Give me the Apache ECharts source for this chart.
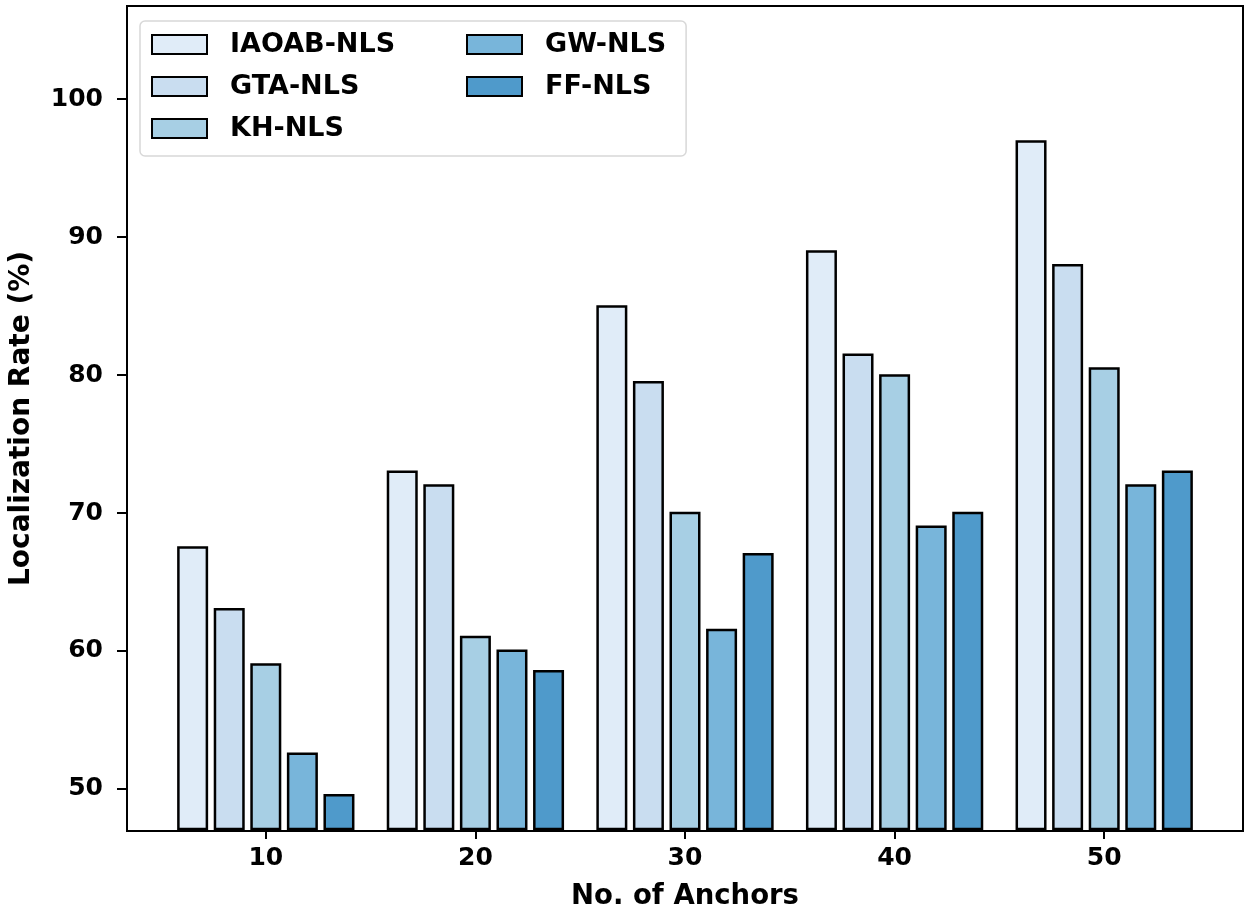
<!DOCTYPE html>
<html>
<head>
<meta charset="utf-8">
<script src="https://cdn.jsdelivr.net/npm/echarts@6/dist/echarts.min.js"></script>
<style>html,body{margin:0;padding:0;background:#fff;}#c{width:1250px;height:916px;}</style>
</head>
<body>
<div id="c"></div>
<script>
var categories = ['10', '20', '30', '40', '50'];
var seriesNames = ['IAOAB-NLS', 'GTA-NLS', 'KH-NLS', 'GW-NLS', 'FF-NLS'];
var iaoabNls = [67.5, 73, 85, 89, 97];
var gtaNls   = [63, 72, 79.5, 81.5, 88];
var khNls    = [59, 61, 70, 80, 80.5];
var gwNls    = [52.5, 60, 61.5, 69, 72];
var ffNls    = [49.5, 58.5, 67, 70, 73];
var yTickValues = [50, 60, 70, 80, 90, 100];
var colors = ['#e0ecf8', '#c9ddf0', '#a7cfe4', '#78b5da', '#4f9acb'];

var values = [iaoabNls, gtaNls, khNls, gwNls, ffNls];
var FONT = 'DejaVu Sans';
var yMin = 46.95, yMax = 106.75;

var chart = echarts.init(document.getElementById('c'), null, {renderer: 'canvas'});
var series = seriesNames.map(function (n, i) {
  return {
    name: n,
    type: 'bar',
    xAxisIndex: 1,
    yAxisIndex: 1,
    data: values[i],
    barWidth: 31,
    barGap: '18%',
    itemStyle: {color: colors[i], borderColor: '#000', borderWidth: 2.5},
    emphasis: {disabled: true}
  };
});

chart.setOption({
  animation: false,
  backgroundColor: '#fff',
  grid: [
    {left: 125, right: 7, top: 6, bottom: 85, show: true, borderColor: '#000', borderWidth: 2, backgroundColor: 'transparent'},
    {left: 161, right: 41, top: 6, bottom: 85}
  ],
  legend: [
    {
      data: seriesNames.slice(0, 3),
      orient: 'vertical',
      icon: 'rect',
      left: 140, top: 21,
      padding: [10, 291, 14, 11],
      itemGap: 15,
      itemWidth: 55, itemHeight: 19,
      backgroundColor: '#fff',
      borderColor: '#d8d8d8', borderWidth: 1.5, borderRadius: 5,
      textStyle: {fontFamily: FONT, fontWeight: 'bold', fontSize: 27, color: '#000', padding: [0, 0, 0, 18]}
    },
    {
      data: seriesNames.slice(3),
      orient: 'vertical',
      icon: 'rect',
      left: 466, top: 31,
      padding: 0,
      itemGap: 15,
      itemWidth: 55, itemHeight: 19,
      textStyle: {fontFamily: FONT, fontWeight: 'bold', fontSize: 27, color: '#000', padding: [0, 0, 0, 18]}
    }
  ],
  xAxis: [
    {gridIndex: 0, type: 'value', min: 0, max: 1, show: false},
    {
      gridIndex: 1, type: 'category', data: categories,
      axisLine: {show: false},
      axisTick: {show: true, alignWithLabel: true, length: 10, lineStyle: {color: '#000', width: 2}},
      axisLabel: {fontFamily: FONT, fontWeight: 'bold', fontSize: 25, color: '#000', margin: 17},
      name: 'No. of Anchors', nameLocation: 'middle', nameGap: 54,
      nameTextStyle: {fontFamily: FONT, fontWeight: 'bold', fontSize: 27.5, color: '#000'}
    }
  ],
  yAxis: [
    {
      gridIndex: 0, type: 'value', min: yMin, max: yMax,
      axisLine: {show: false},
      splitLine: {show: false},
      axisTick: {show: true, length: 10, customValues: yTickValues, lineStyle: {color: '#000', width: 2}},
      axisLabel: {fontFamily: FONT, fontWeight: 'bold', fontSize: 25, color: '#000', margin: 24, customValues: yTickValues},
      name: 'Localization Rate (%)', nameLocation: 'middle', nameGap: 91,
      nameTextStyle: {fontFamily: FONT, fontWeight: 'bold', fontSize: 28, color: '#000'}
    },
    {gridIndex: 1, type: 'value', min: yMin, max: yMax, show: false, splitLine: {show: false}}
  ],
  series: series
});
</script>
</body>
</html>
